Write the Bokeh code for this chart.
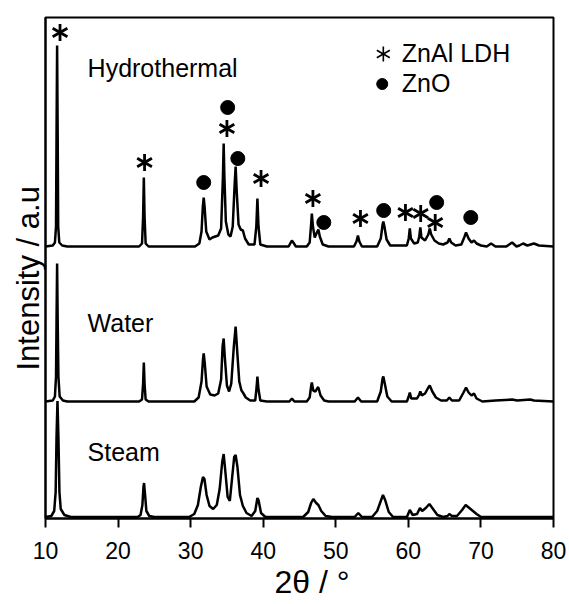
import numpy as np
from bokeh.plotting import figure
from bokeh.models import Range1d, FixedTicker, Title
from bokeh.core.properties import value
from bokeh.embed import file_html
from bokeh.resources import INLINE

# ---------------- data ----------------
x_ticks = [10, 20, 30, 40, 50, 60, 70, 80]
sample_names = ["Hydrothermal", "Water", "Steam"]
sample_offsets = [272, 117, 1.5]          # vertical stacking offset of each pattern (a.u.)

# (2theta, intensity above own baseline)
hydro_profile = [
    (10.0, 0), (11.0, 1), (11.3, 4), (11.45, 20), (11.52, 110), (11.6, 201), (11.68, 110),
    (11.75, 20), (11.9, 4), (12.3, 1), (13.0, 0),
    (22.9, 0), (23.3, 3), (23.45, 30), (23.55, 69), (23.65, 30), (23.8, 3), (24.2, 0),
    (30.6, 0), (31.2, 3), (31.5, 15), (31.68, 40), (31.8, 49), (31.92, 40), (32.15, 15), (32.6, 7),
    (33.0, 9), (33.8, 11), (34.2, 18), (34.45, 70), (34.55, 103), (34.65, 70), (34.85, 25),
    (35.2, 12), (35.5, 10), (35.8, 20), (36.05, 60), (36.2, 80), (36.35, 55), (36.6, 22),
    (36.9, 17), (37.2, 16), (37.5, 8), (38.0, 2), (38.8, 2), (39.05, 20), (39.2, 48),
    (39.35, 20), (39.6, 2), (40.5, 0),
    (43.5, 0), (43.8, 4), (43.95, 6), (44.15, 4), (44.5, 0),
    (46.0, 0), (46.4, 4), (46.6, 22), (46.7, 33), (46.85, 20), (47.1, 9), (47.4, 14), (47.6, 17),
    (47.8, 10), (48.2, 2), (49.0, 0),
    (52.5, 0), (52.85, 5), (53.05, 11), (53.25, 5), (53.6, 0),
    (55.7, 0), (56.2, 8), (56.45, 22), (56.55, 25), (56.7, 20), (57.0, 7), (57.5, 1),
    (59.8, 1), (60.05, 8), (60.2, 18), (60.35, 8), (60.8, 3), (61.3, 4), (61.5, 10), (61.65, 19),
    (61.8, 9), (62.3, 6), (62.75, 12), (62.95, 18), (63.15, 12), (63.6, 6), (64.2, 3),
    (64.8, 2), (65.4, 4), (65.65, 8), (65.9, 4), (66.5, 1),
    (67.3, 2), (67.75, 10), (67.95, 14), (68.3, 8), (68.7, 4), (69.05, 6), (69.4, 3), (70.0, 1),
    (70.8, 0), (71.4, 3), (72.0, 0), (73.5, 0), (74.3, 4), (74.9, 0), (75.3, 1), (75.8, 3),
    (76.4, 1), (77.3, 3), (78.0, 1), (80.0, 0),
]

water_profile = [
    (10.0, 0), (11.0, 1), (11.3, 5), (11.45, 25), (11.52, 80), (11.6, 138), (11.68, 80),
    (11.78, 25), (11.95, 5), (12.4, 1), (13.0, 0),
    (22.9, 0), (23.3, 2), (23.45, 18), (23.55, 39), (23.65, 18), (23.8, 2), (24.2, 0),
    (30.5, 0), (31.1, 4), (31.5, 20), (31.7, 42), (31.8, 48), (31.95, 38), (32.2, 15), (32.7, 7),
    (33.3, 6), (33.8, 8), (34.2, 22), (34.4, 55), (34.55, 63), (34.7, 45), (35.0, 16),
    (35.3, 10), (35.6, 18), (35.95, 55), (36.2, 75), (36.4, 52), (36.7, 20), (37.0, 11),
    (37.2, 9), (37.6, 4), (38.2, 1), (38.9, 1), (39.1, 15), (39.2, 25), (39.35, 12), (39.6, 1),
    (40.5, 0), (43.6, 0), (43.95, 3), (44.3, 0),
    (46.0, 0), (46.4, 4), (46.6, 15), (46.7, 19), (46.9, 11), (47.2, 10), (47.5, 14), (47.6, 14),
    (47.9, 6), (48.4, 1), (49.0, 0),
    (52.6, 0), (53.05, 4), (53.5, 0),
    (55.7, 0), (56.2, 10), (56.45, 23), (56.55, 25), (56.75, 18), (57.1, 5), (57.7, 0),
    (59.8, 0), (60.05, 5), (60.2, 9), (60.4, 3), (61.2, 3), (61.5, 7), (61.65, 10), (61.85, 6),
    (62.3, 8), (62.75, 14), (62.95, 16), (63.3, 10), (63.8, 4), (64.5, 1),
    (65.3, 1), (65.65, 4), (66.0, 1), (67.0, 1), (67.6, 9), (67.95, 14), (68.3, 9), (68.7, 6),
    (69.05, 8), (69.4, 3), (70.2, 0), (72.0, 1), (74.3, 2), (75.0, 1), (76.8, 2), (77.3, 1),
    (80.0, 0),
]

steam_profile = [
    (10.0, 0), (10.8, 1), (11.2, 6), (11.4, 25), (11.52, 80), (11.65, 116), (11.78, 80),
    (11.92, 25), (12.1, 8), (12.6, 2), (13.5, 0),
    (22.7, 0), (23.1, 2), (23.35, 12), (23.5, 30), (23.58, 34), (23.7, 24), (23.9, 6),
    (24.3, 1), (25.0, 0),
    (29.8, 0), (30.5, 3), (31.0, 12), (31.4, 30), (31.7, 40), (31.9, 38), (32.2, 22), (32.6, 11),
    (33.1, 8), (33.6, 12), (34.0, 28), (34.35, 55), (34.55, 63), (34.75, 48), (35.1, 20),
    (35.4, 16), (35.7, 38), (36.0, 60), (36.2, 62), (36.45, 50), (36.8, 22), (37.2, 11),
    (37.7, 4), (38.4, 1), (38.9, 6), (39.2, 19), (39.35, 17), (39.7, 4), (40.3, 0),
    (45.5, 0), (46.2, 5), (46.6, 14), (46.9, 18), (47.3, 14), (47.6, 12), (48.0, 6), (48.6, 1),
    (49.5, 0), (52.6, 0), (53.1, 4), (53.6, 0),
    (55.0, 0), (55.7, 6), (56.2, 16), (56.5, 22), (56.8, 17), (57.3, 5), (57.9, 0),
    (59.8, 0), (60.2, 7), (60.6, 2), (61.2, 3), (61.6, 9), (61.9, 6), (62.4, 9), (62.9, 13),
    (63.4, 8), (64.0, 2), (64.8, 0), (65.4, 1), (65.65, 3), (66.0, 1), (66.7, 1), (67.4, 7),
    (67.9, 12), (68.4, 9), (68.9, 6), (69.4, 3), (70.0, 0), (80.0, 0),
]

# phase markers placed above the Hydrothermal pattern (2theta, height)
ldh_marks = [(12.0, 486), (23.65, 356), (35.0, 390), (39.7, 340), (46.85, 320),
             (53.4, 300), (59.6, 306), (61.7, 305), (63.7, 296)]
zno_marks = [(31.8, 336), (35.1, 411), (36.5, 360), (48.35, 296), (56.6, 308),
             (63.9, 316), (68.6, 301)]
legend_labels = ["ZnAl LDH", "ZnO"]
x_title = "2θ / °"
y_title = "Intensity  / a.u"

# ---------------- figure ----------------
FONT = "Liberation Sans"
p = figure(width=569, height=604, x_range=Range1d(10, 80), y_range=Range1d(0, 501),
           output_backend="svg", toolbar_location=None,
           min_border_left=45, min_border_right=16, min_border_top=17, min_border_bottom=86)
p.grid.visible = False
p.background_fill_color = "white"
p.border_fill_color = "white"
p.outline_line_color = "black"
p.outline_line_width = 2
p.outline_line_alpha = 1

ax = p.xaxis[0]
ax.ticker = FixedTicker(ticks=x_ticks)
ax.major_tick_out = 9
ax.major_tick_in = 0
ax.minor_tick_out = 0
ax.minor_tick_in = 0
ax.major_tick_line_width = 2
ax.axis_line_width = 2
ax.major_label_text_font = FONT
ax.major_label_text_font_size = "23px"
ax.major_label_text_color = "black"
ax.major_label_standoff = 14

ay = p.yaxis[0]
ay.ticker = FixedTicker(ticks=[])
ay.major_tick_line_color = None
ay.minor_tick_line_color = None
ay.major_tick_out = 0
ay.major_tick_in = 0
ay.major_label_standoff = 0
ay.axis_line_width = 2

# axis titles as side titles (offset lets them sit where the reference puts them)
p.add_layout(Title(text=x_title, align="left", offset=229, standoff=0,
                   text_font=FONT, text_font_size="32px", text_font_style="normal",
                   text_color="black"), "below")
p.add_layout(Title(text=y_title, align="left", offset=148, standoff=0,
                   text_font=FONT, text_font_size="31px", text_font_style="normal",
                   text_color="black"), "left")

profiles = [hydro_profile, water_profile, steam_profile]
for prof, off in zip(profiles, sample_offsets):
    arr = np.array(prof, dtype=float)
    p.line(arr[:, 0], arr[:, 1] + off, line_color="black", line_width=2.5)

# sample names
p.text(x=[15.8, 15.8, 15.8], y=[451, 196, 66.7], text=sample_names,
       text_font=value(FONT), text_font_size="25px", text_color="black",
       text_align="left", text_baseline="alphabetic")

def asterisk(xs, ys, size, lw):
    for ang in (np.pi / 2, np.pi / 6, -np.pi / 6):
        p.scatter(xs, ys, marker="dash", size=size, angle=ang,
                  line_color="black", line_width=lw)

lx = [m[0] for m in ldh_marks]
ly = [m[1] for m in ldh_marks]
asterisk(lx, ly, 17, 2.8)

zx = [m[0] for m in zno_marks]
zy = [m[1] for m in zno_marks]
p.scatter(zx, zy, marker="circle", size=14, fill_color="black", line_color="black")

# legend
asterisk([56.55], [464.5], 15, 1.6)
p.scatter([56.4], [434.5], marker="circle", size=11, fill_color="black", line_color="black")
p.text(x=[59.1, 59.1], y=[466, 436], text=legend_labels,
       text_font=value(FONT), text_font_size="25px", text_color="black",
       text_align="left", text_baseline="alphabetic")

open("out.html", "w").write(file_html(p, INLINE))
